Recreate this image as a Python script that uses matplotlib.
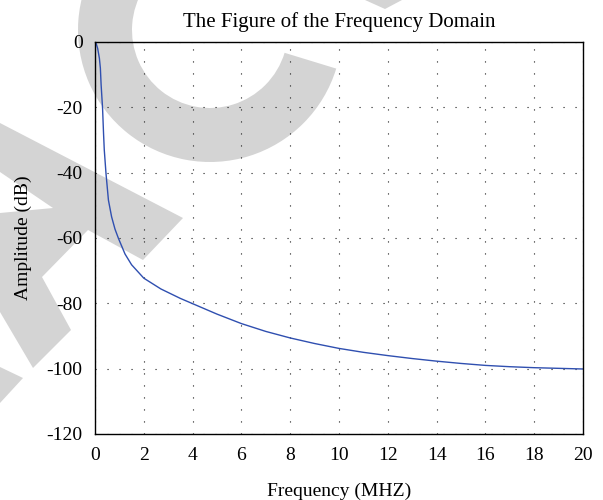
import numpy as np
import matplotlib
matplotlib.use("Agg")
import matplotlib.pyplot as plt
from matplotlib.patches import Wedge, Polygon

# values
freq = [0, 0.05, 0.11, 0.18, 0.22, 0.25, 0.31, 0.35, 0.38, 0.45, 0.55, 0.68,
        0.82, 0.96, 1.23, 1.5, 2.0, 2.7, 3.5, 4.0, 5.0, 6.0, 7.0, 8.0, 9.0,
        10.0, 11.0, 12.0, 13.0, 14.0, 15.0, 16.0, 17.0, 18.0, 19.0, 20.0]
amp = [0, -0.5, -2, -5, -8, -13, -20.3, -28, -33, -40.2, -48.4, -53.5,
       -57.3, -60.1, -64.9, -68.2, -72.3, -75.6, -78.5, -80.1, -83.3, -86.2, -88.6, -90.6, -92.3,
       -93.8, -95.0, -96.0, -96.9, -97.7, -98.4, -99.0, -99.4, -99.7, -99.9, -100.1]

x_ticks = list(range(0, 21, 2))
y_ticks = list(range(-120, 1, 20))

title = "The Figure of the Frequency Domain"
x_label = "Frequency (MHZ)"
y_label = "Amplitude (dB)"

plt.rcParams['font.family'] = ['Liberation Serif', 'DejaVu Serif']

fig = plt.figure(figsize=(6.03, 5.0), dpi=100)
ax = fig.add_axes([95/603, 1-434/500, (583-95)/603, (434-42)/500])
ax.patch.set_facecolor('none')

# watermark behind the plot (pixel coords -> inches)
def px(x, y):
  return (x/100.0, (500-y)/100.0)

wm = '#d4d4d4'
tr = fig.dpi_scale_trans
fig.patches.append(Wedge(px(210, 30), 1.32, 120, 343, width=0.54,
                         transform=tr, facecolor=wm, edgecolor='none', zorder=-1))
shape_a = [(0, 123), (183, 218), (143, 260), (88, 230), (42, 277), (71, 330),
           (33, 368), (0, 312), (0, 213), (53, 208), (0, 172)]
fig.patches.append(Polygon([px(*p) for p in shape_a], closed=True,
                           transform=tr, facecolor=wm, edgecolor='none', zorder=-1))
fig.patches.append(Polygon([px(*p) for p in [(0, 367), (23, 378), (0, 403)]], closed=True,
                           transform=tr, facecolor=wm, edgecolor='none', zorder=-1))
fig.patches.append(Polygon([px(*p) for p in [(365, 0), (402, 0), (385, 9)]], closed=True,
                           transform=tr, facecolor=wm, edgecolor='none', zorder=-1))

ax.plot(freq, amp, color='#2f4fb0', linewidth=1.0)

ax.set_xlim(0, 20)
ax.set_ylim(-120, 0)
ax.set_xticks(x_ticks)
ax.set_yticks(y_ticks)
ax.set_xticklabels([str(v) for v in x_ticks])
ax.set_yticklabels([str(v) for v in y_ticks])
ax.tick_params(length=0, pad=9, labelsize=14)
ax.grid(True, color='0.1', linestyle=(0, (1, 9.8)), linewidth=0.8)

for s in ax.spines.values():
  s.set_linewidth(1.0)
  s.set_color('black')

ax.set_title(title, fontsize=15, pad=11)
ax.set_xlabel(x_label, fontsize=14, labelpad=14)
ax.set_ylabel(y_label, fontsize=14, labelpad=10)

fig.savefig("out.png", dpi=100)
